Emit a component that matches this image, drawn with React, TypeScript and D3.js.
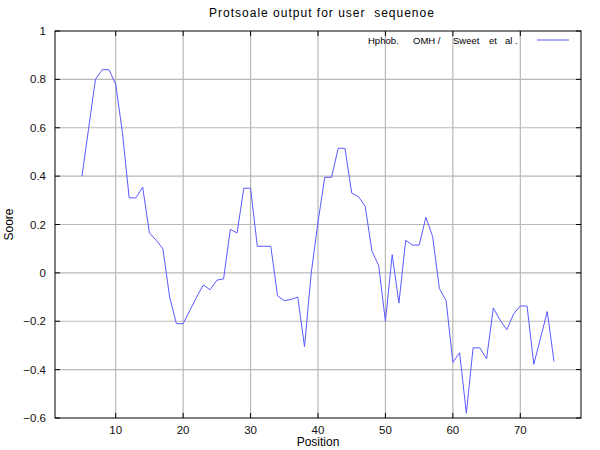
import React from "react";
import * as d3 from "d3";

const positions: number[] = d3.range(5, 76);
const scores: number[] = [
  0.40, 0.60, 0.80, 0.84, 0.84, 0.78, 0.58, 0.31, 0.31, 0.355,
  0.165, 0.135, 0.10, -0.10, -0.21, -0.21, -0.155, -0.10, -0.05, -0.07,
  -0.03, -0.025, 0.18, 0.165, 0.35, 0.35, 0.11, 0.11, 0.11, -0.095,
  -0.115, -0.11, -0.10, -0.305, 0.0, 0.21, 0.395, 0.395, 0.515, 0.515,
  0.33, 0.315, 0.275, 0.09, 0.03, -0.20, 0.075, -0.125, 0.135, 0.115,
  0.115, 0.23, 0.15, -0.065, -0.115, -0.37, -0.33, -0.58, -0.31, -0.31,
  -0.355, -0.145, -0.195, -0.235, -0.17, -0.137, -0.137, -0.378, -0.27, -0.16,
  -0.367,
];
const xTicks: number[] = [10, 20, 30, 40, 50, 60, 70];
const yTicks: number[] = [-0.6, -0.4, -0.2, 0, 0.2, 0.4, 0.6, 0.8, 1];
const legendWords: string[] = ["Hphob.", "OMH /", "Sweet", "et", "al ."];
const legendWordX: number[] = [368, 413, 453, 489, 505];

const W = 600, H = 450;
const L = 55, R = 581, T = 31, B = 418;
const FONT = "'Liberation Sans', Arial, sans-serif";
const LINE = "#5a5aff";

export default function App() {
  const x = d3.scaleLinear().domain([1, 79]).range([L, R]);
  const y = d3.scaleLinear().domain([-0.6, 1]).range([B, T]);
  const line = d3
    .line<number>()
    .x((_, i) => x(positions[i]))
    .y((d) => y(d));
  const fmt = (v: number) => (Math.abs(v) < 1e-9 ? "0" : d3.format("~g")(+v.toFixed(1)));

  return (
    <svg
      width={W}
      height={H}
      style={{ position: "absolute", left: 0, top: 0, background: "#fff" }}
      fontFamily={FONT}
    >
      <rect x={0} y={0} width={W} height={H} fill="#fff" />
      <g stroke="#b8b8b8" strokeWidth={1.2}>
        {xTicks.map((t) => (
          <line key={"gx" + t} x1={x(t)} x2={x(t)} y1={T} y2={B} />
        ))}
        {yTicks
          .filter((t) => t > -0.6 && t < 1)
          .map((t) => (
            <line key={"gy" + t} x1={L} x2={R} y1={y(t)} y2={y(t)} />
          ))}
      </g>
      <g stroke="#000" strokeWidth={1}>
        {xTicks.map((t) => (
          <g key={"tx" + t}>
            <line x1={x(t)} x2={x(t)} y1={B} y2={B - 5} />
            <line x1={x(t)} x2={x(t)} y1={T} y2={T + 5} />
          </g>
        ))}
        {yTicks.map((t) => (
          <g key={"ty" + t}>
            <line x1={L} x2={L + 5} y1={y(t)} y2={y(t)} />
            <line x1={R} x2={R - 5} y1={y(t)} y2={y(t)} />
          </g>
        ))}
      </g>
      <path d={line(scores) || ""} fill="none" stroke={LINE} strokeWidth={1} />
      <rect x={L} y={T} width={R - L} height={B - T} fill="none" stroke="#000" strokeWidth={1} />
      <g fontSize={11.5} fill="#111">
        {xTicks.map((t) => (
          <text key={"lx" + t} x={x(t)} y={B + 16} textAnchor="middle">
            {t}
          </text>
        ))}
        {yTicks.map((t) => (
          <text key={"ly" + t} x={L - 9} y={y(t) + 4} textAnchor="end">
            {fmt(t)}
          </text>
        ))}
      </g>
      <text
        x={(L + R) / 2 + 4}
        y={17}
        fontSize={12}
        textAnchor="middle"
        letterSpacing={1}
        style={{ whiteSpace: "pre" }}
      >
        {"Protsoale output for user  sequenoe"}
      </text>
      <text x={(L + R) / 2} y={446} fontSize={12} textAnchor="middle">
        Position
      </text>
      <text
        transform={`translate(13, ${(T + B) / 2}) rotate(-90)`}
        fontSize={12}
        textAnchor="middle"
      >
        Soore
      </text>
      <g fontSize={9.5}>
        {legendWords.map((w, i) => (
          <text key={"lg" + i} x={legendWordX[i]} y={44} style={{ whiteSpace: "pre" }}>
            {w}
          </text>
        ))}
      </g>
      <line x1={537} x2={569} y1={40} y2={40} stroke={LINE} strokeWidth={1} />
    </svg>
  );
}
